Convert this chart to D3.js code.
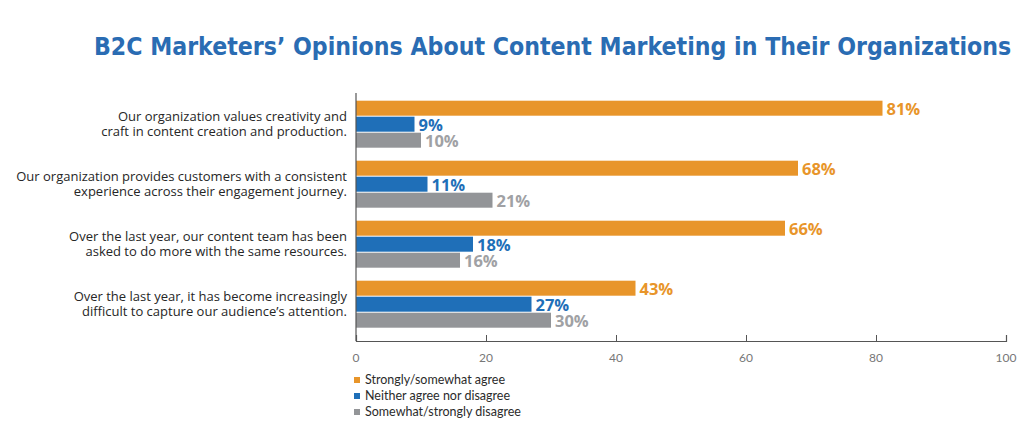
<!DOCTYPE html>
<html><head><meta charset="utf-8">
<script src="https://cdn.jsdelivr.net/npm/d3@7"></script>
<style>html,body{margin:0;padding:0;background:#fff;}svg{display:block;}</style>
</head><body>
<svg id="c" width="1024" height="433"></svg>
<script>
const categories = [
  ["Our organization values creativity and", "craft in content creation and production."],
  ["Our organization provides customers with a consistent", "experience across their engagement journey."],
  ["Over the last year, our content team has been", "asked to do more with the same resources."],
  ["Over the last year, it has become increasingly", "difficult to capture our audience’s attention."]
];
const seriesNames = ["Strongly/somewhat agree", "Neither agree nor disagree", "Somewhat/strongly disagree"];
const agree = [81, 68, 66, 43];
const neither = [9, 11, 18, 27];
const disagree = [10, 21, 16, 30];
const tickValues = [0, 20, 40, 60, 80, 100];
const colors = ["#E8952A", "#1F6FB8", "#939598"];
const labelColors = ["#E8952A", "#1F6FB8", "#A0A1A4"];
const title = "B2C Marketers’ Opinions About Content Marketing in Their Organizations";

const seriesValues = [agree, neither, disagree];
const svg = d3.select("#c");
const catIdx = d3.range(categories.length);

const x = d3.scaleLinear().domain([0, 100]).range([356, 1006]);
const y = d3.scaleBand().domain(catIdx).range([93.7, 333.7]);
const yi = d3.scaleBand().domain(d3.range(3)).range([7, 54]).paddingInner(1/16);

// title, sized to span the reference width
const t = svg.append("text").attr("x", 94).attr("y", 55)
  .attr("font-family", "'Liberation Sans Narrow','DejaVu Sans Condensed',sans-serif")
  .attr("font-weight", "bold").attr("font-size", 28).attr("fill", "#2A6CB3")
  .text(title);
const tw = t.node().getComputedTextLength();
t.attr("font-size", Math.min(30, 28 * 918 / tw));

// bars
const g = svg.append("g");
seriesValues.forEach((vals, s) => {
  g.selectAll(null).data(catIdx).enter().append("rect")
    .attr("x", x(0)).attr("y", i => y(i) + yi(s))
    .attr("width", i => x(vals[i]) - x(0)).attr("height", yi.bandwidth())
    .attr("fill", colors[s]);
  g.selectAll(null).data(catIdx).enter().append("text")
    .attr("x", i => x(vals[i]) + 4).attr("y", i => y(i) + yi(s) + yi.bandwidth() - 0.5)
    .attr("font-family", "'Open Sans',sans-serif").attr("font-weight", "bold")
    .attr("font-size", 16.5).attr("fill", labelColors[s])
    .text(i => vals[i] + "%");
});

// category labels
const cl = svg.append("g").attr("font-family", "'Open Sans',sans-serif")
  .attr("font-size", 13).attr("fill", "#262626").attr("text-anchor", "end");
catIdx.forEach(i => {
  const cy = y(i) + 30;
  categories[i].forEach((line, k) => {
    cl.append("text").attr("x", 347).attr("y", cy + (k - 0.5) * 15)
      .attr("dy", "0.35em").text(line);
  });
});

// vertical axis line
svg.append("line").attr("x1", x(0)).attr("x2", x(0)).attr("y1", 93).attr("y2", 341)
  .attr("stroke", "#555").attr("stroke-width", 1.2);

// x axis
const ax = svg.append("g").attr("transform", "translate(0,341)")
  .call(d3.axisTop(x).tickValues(tickValues).tickSize(6).tickFormat(""));
ax.select(".domain").attr("stroke", "#555").attr("stroke-width", 1.2);
ax.selectAll(".tick line").attr("stroke", "#555");
svg.append("g").selectAll("text").data(tickValues).enter().append("text")
  .attr("x", d => x(d)).attr("y", 358).attr("dy", "0.35em").attr("text-anchor", "middle")
  .attr("font-family", "Lato,sans-serif").attr("font-size", 12).attr("fill", "#777")
  .text(d => d);

// legend
const lg = svg.append("g");
seriesNames.forEach((n, s) => {
  const ly = 380 + s * 16;
  lg.append("rect").attr("x", 354).attr("y", ly - 3).attr("width", 6).attr("height", 6).attr("fill", colors[s]);
  lg.append("text").attr("x", 365).attr("y", ly).attr("dy", "0.35em")
    .attr("font-family", "Lato,sans-serif").attr("font-size", 12.5).attr("fill", "#2b2b2b").text(n);
});
</script>
</body></html>
